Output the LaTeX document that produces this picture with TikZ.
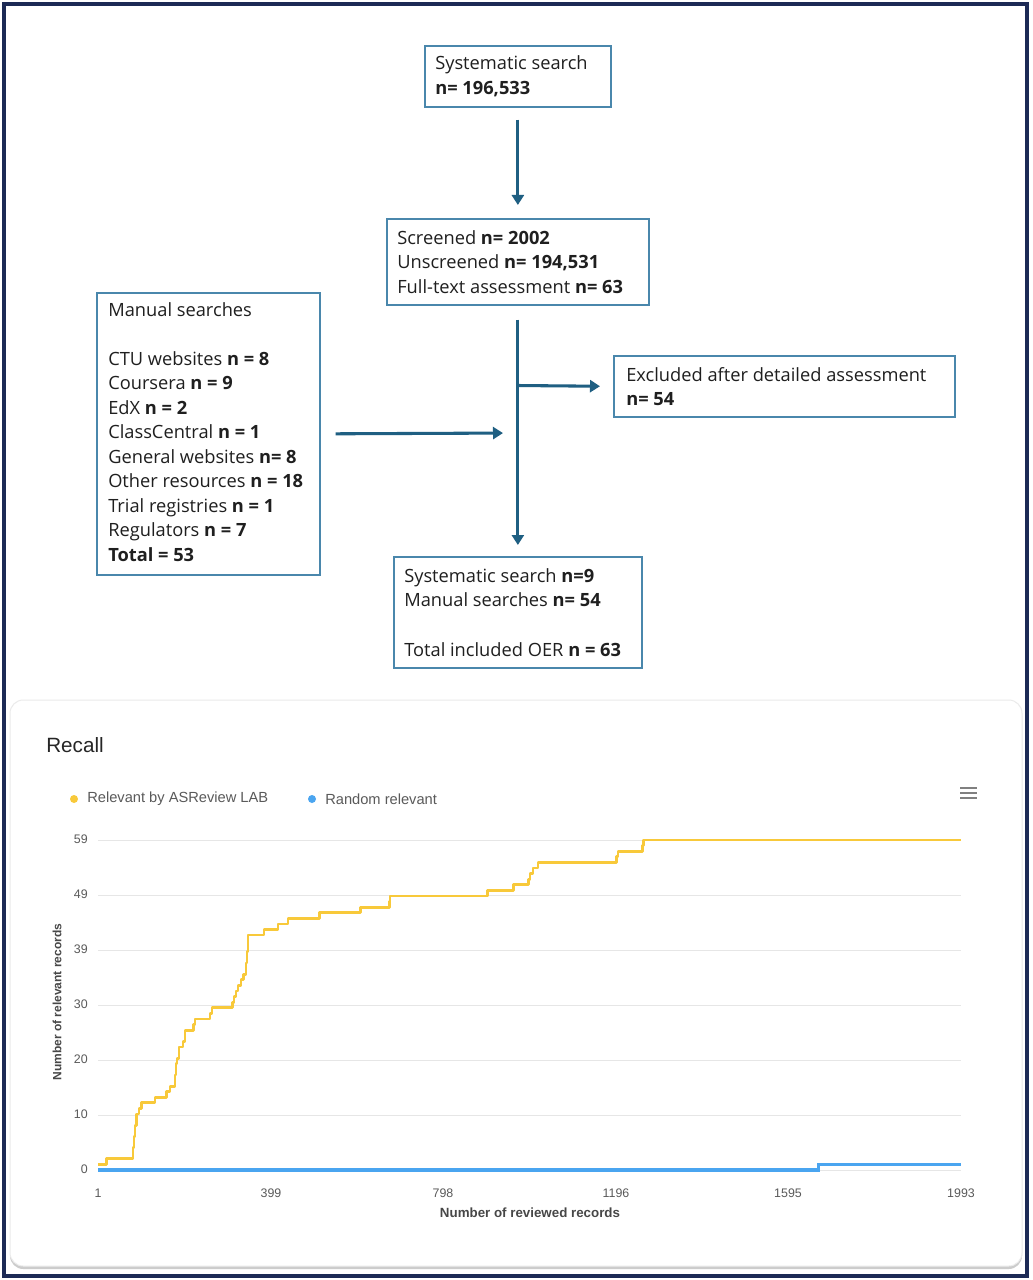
\documentclass[tikz,border=0pt]{standalone}
\usepackage{fontspec}
\setmainfont{Open Sans}
\newfontfamily\chartfont{Liberation Sans}
\usetikzlibrary{arrows.meta}
\definecolor{navy}{HTML}{1C2A55}
\definecolor{boxblue}{HTML}{4A87AC}
\definecolor{arrblue}{HTML}{1F5F82}
\definecolor{ylw}{HTML}{F8C93A}
\definecolor{blu}{HTML}{4AA5F0}
\definecolor{grid}{HTML}{E6E6E6}
\definecolor{lbl}{HTML}{5A5A5A}
\tikzset{
  fbox/.style={draw=boxblue, line width=1.3pt, rectangle, anchor=north west, inner sep=0pt},
  ftext/.style={anchor=west, align=left, inner sep=0pt,
    font=\fontsize{13.7}{18.4}\selectfont, text=black!88},
  conn/.style={draw=arrblue, line width=2.3pt},
  arr/.style={conn, -{Triangle[width=9pt,length=7.5pt]}},
  tick/.style={font=\chartfont\fontsize{9.3}{11}\selectfont, text=lbl, inner sep=0pt},
  gridl/.style={draw=grid, line width=0.75pt},
}
\begin{document}
\begin{tikzpicture}[x=0.75pt, y=-0.75pt]
\useasboundingbox (0,0) rectangle (1032,1280);
\fill[white] (0,0) rectangle (1032,1280);
% outer frame
\draw[navy, line width=2.3pt] (4,4) rectangle (1027,1276);

% ---------- flowchart ----------
\node[fbox, minimum width=139.5pt, minimum height=45.75pt] (ss) at (424,45) {};
\node[ftext] (ss-t) at ([xshift=8.25pt]ss.west) {Systematic search\\\textbf{n= 196,533}};

\node[fbox, minimum width=196.5pt, minimum height=64.5pt] (scr) at (386,218) {};
\node[ftext] (scr-t) at ([xshift=8.25pt]scr.west)
  {Screened \textbf{n= 2002}\\Unscreened \textbf{n= 194,531}\\Full-text assessment \textbf{n= 63}};

\node[fbox, minimum width=167.25pt, minimum height=211.5pt] (man) at (96,292) {};
\node[ftext] (man-t) at ([xshift=9pt,yshift=1.5pt]man.west)
  {Manual searches\\[18.4pt]CTU websites \textbf{n = 8}\\Coursera \textbf{n = 9}\\EdX \textbf{n = 2}\\ClassCentral \textbf{n = 1}\\General websites \textbf{n= 8}\\Other resources \textbf{n = 18}\\Trial registries \textbf{n = 1}\\Regulators \textbf{n = 7}\\\textbf{Total = 53}};

\node[fbox, minimum width=255.75pt, minimum height=45.75pt] (exc) at (613,355) {};
\node[ftext] (exc-t) at ([xshift=9.75pt]exc.west) {Excluded after detailed assessment\\\textbf{n= 54}};

\node[fbox, minimum width=186pt, minimum height=83.25pt] (inc) at (393,556) {};
\node[ftext] (inc-t) at ([xshift=8.25pt]inc.west)
  {Systematic search \textbf{n=9}\\Manual searches \textbf{n= 54}\\[18.4pt]Total included OER \textbf{n = 63}};

\coordinate (jx) at (517,385.5);
\coordinate (jm) at (517,433);
\draw[arr, shorten <=9pt, shorten >=9.75pt] (ss.south) -- (scr.north);
\draw[arr, shorten <=10.5pt, shorten >=8.25pt] (scr.south) -- (inc.north);
\draw[arr, shorten >=9.75pt] (jx) -- (exc.west);
\draw[arr, shorten <=11.25pt, shorten >=10.5pt] (man.east) -- (jm);

% ---------- chart card ----------
\fill[black!20, rounded corners=10pt] (10,703) rectangle (1022,1269);
\filldraw[fill=white, draw=black!8, line width=0.75pt, rounded corners=10pt] (10,700) rectangle (1022,1266);

\node[font=\chartfont\fontsize{15.5}{18}\selectfont, text=black!85, anchor=west, inner sep=0pt] (title) at (46,745) {Recall};

% legend
\fill[ylw] (74,799) circle (4);
\node[font=\chartfont\fontsize{11}{13}\selectfont, text=lbl, anchor=west, inner sep=0pt] (lg1) at (87,799) {Relevant by ASReview LAB};
\fill[blu] (312,799) circle (4);
\node[font=\chartfont\fontsize{11}{13}\selectfont, text=lbl, anchor=west, inner sep=0pt] (lg2) at (325,799) {Random relevant};

% menu icon
\foreach \yy in {788,793,798} \draw[black!50, line width=1.5pt] (960,\yy) -- (977,\yy);

% grid and y labels
\foreach \yy/\lab in {840/59,895/49,950/39,1005/30,1060/20,1115/10,1170/0} {
  \draw[gridl] (98,\yy) -- (961,\yy);
  \node[tick, anchor=east] at (88,\yy-1) {\lab};
}
% x labels
\foreach \xx/\lab in {98/1,271/399,443/798,616/1196,788/1595,961/1993} {
  \node[tick] at (\xx,1193) {\lab};
}
\node[font=\chartfont\bfseries\fontsize{10}{12}\selectfont, text=black!72, inner sep=0pt] (xt) at (530,1213) {Number of reviewed records};
\node[font=\chartfont\bfseries\fontsize{9}{11}\selectfont, text=black!72, inner sep=0pt, rotate=90] (yt) at (57,1002) {Number of relevant records};

% curves
\begin{scope}[shift={(0,1170)}]
\begin{scope}[y=4.195pt]
\draw[ylw, line width=2.1pt, line join=round] plot[const plot] coordinates {
 (98,1) (106.7,2) (133,4) (134,6) (135,8) (136.5,10) (139,11) (141.5,12)
 (155,13) (166.7,14) (170,15) (175,17) (176,19) (177,20) (179,22) (183,23) (185,25)
 (193.3,26) (195,27) (210,28) (212,29) (232.7,30) (234,31) (236,32) (238,33)
 (241,34) (243.5,35) (246,37) (247,39) (248,42) (264,43) (278,44) (288,45)
 (319.3,46) (360.7,47) (389.3,48) (390,49) (487.7,50) (513.3,51) (528.5,52)
 (530,53) (533,54) (538,55) (616.7,56) (618,57) (642.7,58) (643.5,59) (961,59)};
\draw[blu, line width=2.4pt] plot[const plot] coordinates {(98,0) (818.3,1) (961,1)};
\end{scope}
\end{scope}
\end{tikzpicture}
\end{document}
